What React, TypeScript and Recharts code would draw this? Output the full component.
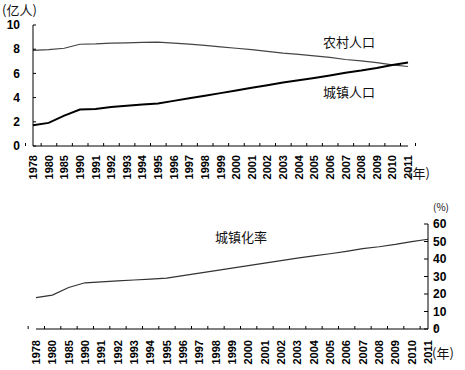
import { LineChart, Line, XAxis, YAxis } from "recharts";

const years = [
  "1978", "1980", "1985", "1990", "1991", "1992", "1993", "1994", "1995",
  "1996", "1997", "1998", "1999", "2000", "2001", "2002", "2003", "2004",
  "2005", "2006", "2007", "2008", "2009", "2010", "2011",
];
// 亿人
const rural = [
  7.9, 7.96, 8.08, 8.41, 8.44, 8.5, 8.53, 8.57, 8.59, 8.51, 8.42, 8.32, 8.2,
  8.08, 7.96, 7.82, 7.68, 7.57, 7.45, 7.32, 7.15, 7.04, 6.89, 6.71, 6.57,
];
const urban = [
  1.72, 1.91, 2.51, 3.02, 3.05, 3.22, 3.33, 3.43, 3.52, 3.73, 3.94, 4.16, 4.37,
  4.59, 4.81, 5.02, 5.24, 5.43, 5.62, 5.83, 6.06, 6.24, 6.45, 6.7, 6.91,
];
// %
const rate = [
  17.92, 19.39, 23.71, 26.41, 26.94, 27.46, 27.99, 28.51, 29.04, 30.48, 31.91,
  33.35, 34.78, 36.22, 37.66, 39.09, 40.53, 41.76, 42.99, 44.34, 45.89, 46.99,
  48.34, 49.95, 51.27,
];
const popTicks = [0, 2, 4, 6, 8, 10];
const rateTicks = [0, 10, 20, 30, 40, 50, 60];

const popData = years.map((year, i) => ({ year, rural: rural[i], urban: urban[i] }));
const rateData = years.map((year, i) => ({ year, rate: rate[i] }));

const numFont = "'Liberation Sans', Arial, sans-serif";
const cjkFont = "'Noto Sans CJK SC', sans-serif";

function makeXTick(bw: number, gap: number) {
  return (props: any) => {
    const { x, y, payload, index } = props;
    const ty = y + gap;
    return (
      <g>
        <line x1={x - bw / 2} x2={x - bw / 2} y1={y} y2={y - 3} stroke="#000" />
        {index === years.length - 1 && (
          <line x1={x + bw / 2} x2={x + bw / 2} y1={y} y2={y - 3} stroke="#000" />
        )}
        <text
          x={x}
          y={ty}
          transform={`rotate(-90 ${x} ${ty})`}
          textAnchor="end"
          dominantBaseline="central"
          fontFamily={numFont}
          fontWeight="bold"
          fontSize={11}
          fill="#000"
        >
          {payload.value}
        </text>
      </g>
    );
  };
}

const label = (left: number, top: number, size = 13): React.CSSProperties => ({
  position: "absolute",
  left,
  top,
  fontFamily: cjkFont,
  fontSize: size,
  lineHeight: 1,
  color: "#111",
  whiteSpace: "nowrap",
});

export default function App() {
  return (
    <div style={{ position: "absolute", left: 0, top: 0, width: 465, height: 370, background: "#fff" }}>
      <div style={{ position: "absolute", left: 0, top: 0 }}>
        <LineChart width={465} height={190} data={popData} margin={{ top: 25, right: 57, left: 0, bottom: 0 }}>
          <XAxis
            dataKey="year"
            interval={0}
            height={44}
            tickSize={0}
            tickMargin={0}
            tickLine={false}
            axisLine={{ stroke: "#000" }}
            tick={makeXTick(375 / years.length, 9)}
          />
          <YAxis
            width={33}
            domain={[0, 10]}
            ticks={popTicks}
            interval={0}
            tickSize={-3}
            tickMargin={16}
            axisLine={{ stroke: "#000" }}
            tickLine={{ stroke: "#000" }}
            tick={{ fontFamily: numFont, fontWeight: "bold", fontSize: 12, fill: "#000" }}
          />
          <Line type="linear" dataKey="rural" stroke="#444" strokeWidth={1.2} dot={false} isAnimationActive={false} />
          <Line type="linear" dataKey="urban" stroke="#000" strokeWidth={2} dot={false} isAnimationActive={false} />
        </LineChart>
      </div>
      <div style={{ position: "absolute", left: 0, top: 190 }}>
        <LineChart width={465} height={180} data={rateData} margin={{ top: 34, right: 0, left: 36, bottom: 0 }}>
          <XAxis
            dataKey="year"
            interval={0}
            height={41}
            tickSize={0}
            tickMargin={0}
            tickLine={false}
            axisLine={{ stroke: "#000" }}
            tick={makeXTick(392 / years.length, 11)}
          />
          <YAxis
            orientation="right"
            width={37}
            domain={[0, 60]}
            ticks={rateTicks}
            interval={0}
            tickSize={-4}
            tickMargin={9}
            axisLine={{ stroke: "#000" }}
            tickLine={{ stroke: "#000" }}
            tick={{ fontFamily: numFont, fontWeight: "bold", fontSize: 12, fill: "#000" }}
          />
          <Line type="linear" dataKey="rate" stroke="#333" strokeWidth={1.2} dot={false} isAnimationActive={false} />
        </LineChart>
      </div>
      <div style={label(2, 3, 13)}>(亿人)</div>
      <div style={label(323, 35)}>农村人口</div>
      <div style={label(323, 85)}>城镇人口</div>
      <div style={label(408, 166)}>(年)</div>
      <div style={label(215, 230)}>城镇化率</div>
      <div style={label(433, 202, 10)}>(%)</div>
      <div style={label(432, 346)}>(年)</div>
    </div>
  );
}
